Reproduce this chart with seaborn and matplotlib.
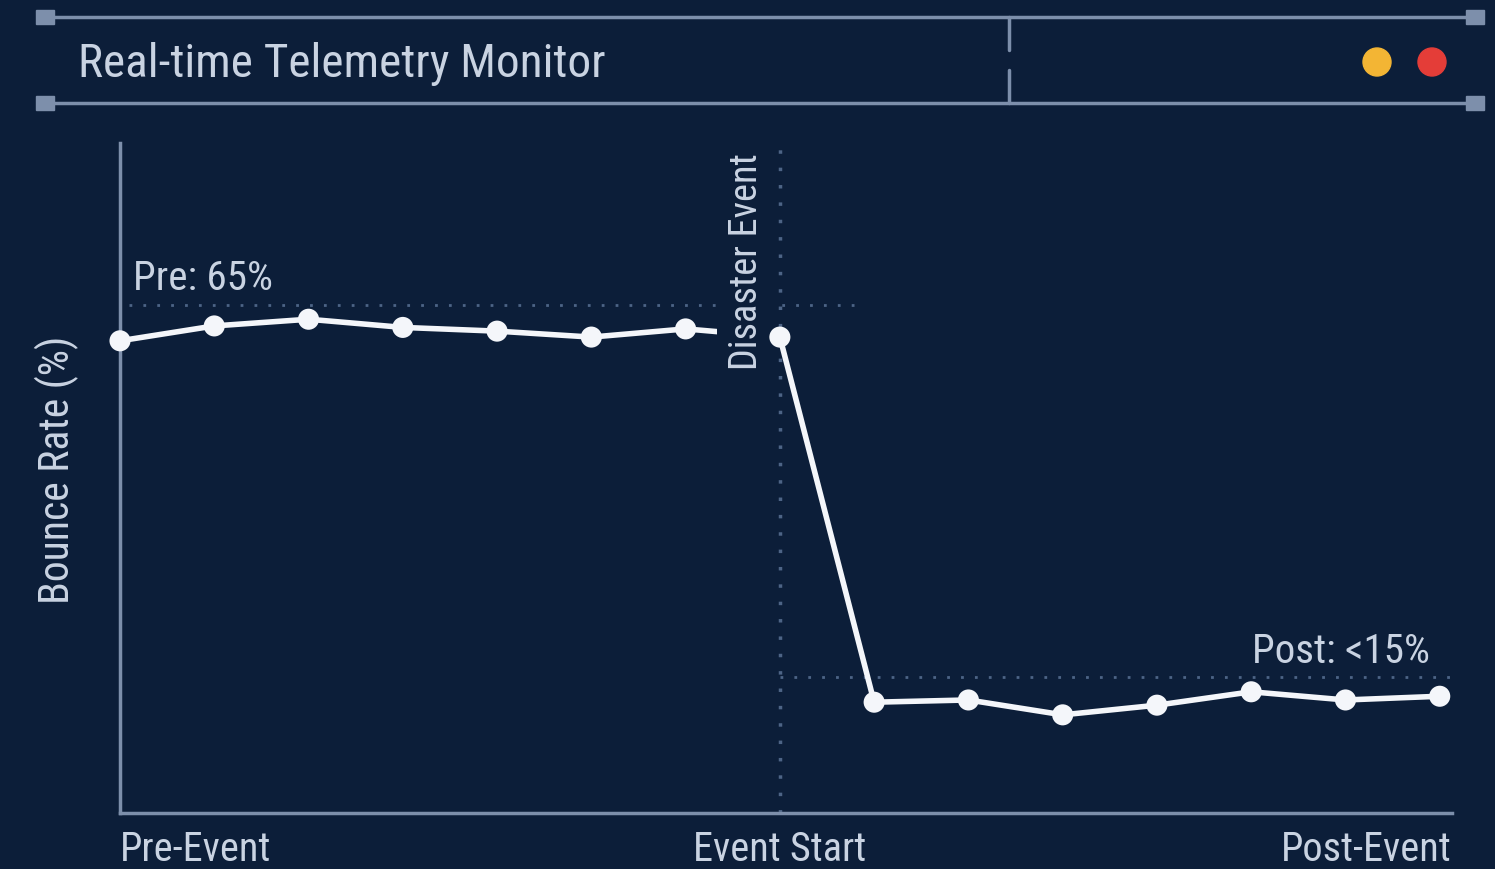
"""Real-time telemetry monitor: bounce rate before and after a disaster event."""
import pandas as pd
import matplotlib.pyplot as plt
import seaborn as sns
from matplotlib.lines import Line2D
from matplotlib.patches import Rectangle, Circle

# data
step = list(range(15))
bounce_rate = [60.2, 62.2, 63.1, 62.0, 61.5, 60.7, 61.8,
               60.7,
               11.6, 11.9, 9.9, 11.2, 13.0, 11.9, 12.4]
pre_level = 65
post_level = 15
event_step = 7
tick_steps = [0, 7, 14.13]
tick_labels = ['Pre-Event', 'Event Start', 'Post-Event']

BG = '#0c1e39'
FG = '#c9d3e2'
FRAME = '#7d8fab'
DOT = '#4d6486'
FONT = ['Roboto Condensed', 'Liberation Sans Narrow', 'Roboto', 'DejaVu Sans']

sns.set_theme(style='dark')
plt.rcParams['font.family'] = FONT

df = pd.DataFrame({'step': step, 'rate': bounce_rate})

fig = plt.figure(figsize=(14.95, 8.69), dpi=100, facecolor=BG)

# header bar drawn in pixel space
hdr = fig.add_axes([0, 0, 1, 1], facecolor='none')
hdr.set_xlim(0, 1495)
hdr.set_ylim(869, 0)
hdr.axis('off')
for y in (17, 103):
    hdr.add_line(Line2D([45, 1475], [y, y], color=FRAME, lw=2.5))
    for x in (45, 1475):
        hdr.add_patch(Rectangle((x - 9, y - 7), 18, 14, color=FRAME))
hdr.add_line(Line2D([1009, 1009], [17, 50], color=FRAME, lw=2.5))
hdr.add_line(Line2D([1009, 1009], [70, 103], color=FRAME, lw=2.5))
hdr.add_patch(Circle((1377, 62), 14, color='#f3b534'))
hdr.add_patch(Circle((1432, 62), 14, color='#e43d38'))
hdr.text(78, 64, 'Real-time Telemetry Monitor', color=FG, fontsize=34,
         va='center', ha='left')
hdr.text(57, 470, 'Bounce Rate (%)', color=FG, fontsize=30, rotation=90,
         va='center', ha='center')

ax = fig.add_axes([120 / 1495, 56 / 869, 1332 / 1495, 670 / 869])
ax.set_facecolor(BG)
ax.set_xlim(0, 14.13)
ax.set_ylim(-3.3, 86.8)

ax.hlines(pre_level, 0.1, 7.8, colors=DOT, linestyles=(0, (1, 4)), lw=2, zorder=1)
ax.hlines(post_level, event_step, 14.13, colors=DOT, linestyles=(0, (1, 4)), lw=2, zorder=1)
ax.axvline(event_step, color=DOT, ls=(0, (1, 4)), lw=2.5, zorder=1)

sns.lineplot(data=df, x='step', y='rate', ax=ax, color='#f4f6fa', lw=4,
             zorder=2, clip_on=False)
sns.scatterplot(data=df, x='step', y='rate', ax=ax, color='#f4f6fa', s=230,
                edgecolor='none', zorder=4, clip_on=False)

ax.text(6.65, 70.8, 'Disaster Event', rotation=90, ha='center', va='center',
        color=FG, fontsize=27.5, zorder=3,
        bbox=dict(boxstyle='square,pad=0.3', fc=BG, ec='none'))
ax.text(0.14, pre_level + 3.6, 'Pre: 65%', color=FG, fontsize=29.5,
        ha='left', va='center')
ax.text(13.9, post_level + 3.4, 'Post: <15%', color=FG, fontsize=29.5,
        ha='right', va='center')

# axis captions under the baseline
for xs, lab, ha in zip(tick_steps, tick_labels, ['left', 'center', 'right']):
    ax.text(xs, -0.055, lab, color=FG, fontsize=29, ha=ha, va='center',
            transform=ax.get_xaxis_transform())

for side in ('top', 'right'):
    ax.spines[side].set_visible(False)
for side in ('left', 'bottom'):
    ax.spines[side].set_visible(True)
    ax.spines[side].set_color(FRAME)
    ax.spines[side].set_linewidth(2.5)
ax.grid(False)
ax.set_xticks([])
ax.set_yticks([])
ax.set_xlabel('')
ax.set_ylabel('')

fig.savefig('out.png', dpi=100, facecolor=BG)
